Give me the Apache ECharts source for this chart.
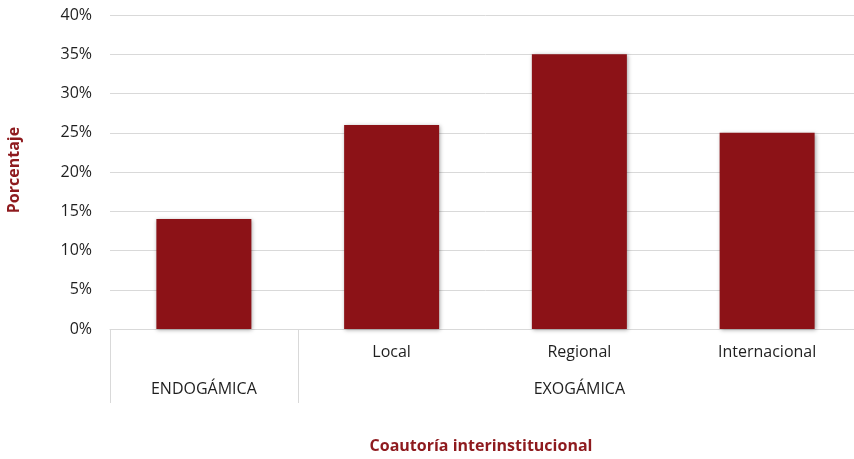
<!DOCTYPE html>
<html><head><meta charset="utf-8">
<script src="https://cdn.jsdelivr.net/npm/echarts@6/dist/echarts.min.js"></script>
<style>html,body{margin:0;padding:0;background:#fff;overflow:hidden}#c{width:870px;height:459px}</style>
</head><body><div id="c"></div>
<script>
const categories = ['', 'Local', 'Regional', 'Internacional'];
const groups = ['ENDOGÁMICA', '', 'EXOGÁMICA', ''];
const values = [14, 26, 35, 25];
const yMax = 40, yStep = 5;
const xTitle = 'Coautoría interinstitucional';
const yTitle = 'Porcentaje';

const FONT = 'Open Sans';
const chart = echarts.init(document.getElementById('c'));
chart.setOption({
  animation: false,
  textStyle: { fontFamily: FONT },
  grid: { left: 110, top: 15, right: 9, height: 314 },
  xAxis: [
    {
      type: 'category', data: categories, position: 'bottom',
      axisLine: { show: true, lineStyle: { color: '#d9d9d9', width: 1 } },
      axisTick: { show: false },
      axisLabel: { margin: 15, fontSize: 16, color: '#1f1f1f', fontFamily: FONT }
    },
    {
      type: 'category', data: groups, position: 'bottom', gridIndex: 0,
      axisLine: { show: false },
      axisTick: { show: true, length: 74, lineStyle: { color: '#d9d9d9', width: 1 },
        interval: function (i) { return i === 0 || i === 1; } },
      axisLabel: { margin: 52, fontSize: 16, color: '#1f1f1f', fontFamily: FONT, interval: 0 }
    }
  ],
  yAxis: {
    type: 'value', min: 0, max: yMax, interval: yStep,
    axisLine: { show: false }, axisTick: { show: false },
    axisLabel: { formatter: '{value}%', margin: 18, fontSize: 16, color: '#1f1f1f', fontFamily: FONT },
    splitLine: { lineStyle: { color: '#d9d9d9', width: 1 } }
  },
  graphic: [
    { type: 'text', x: 481, y: 438, style: { text: xTitle, fill: '#8E1A1E', font: 'bold 16px ' + FONT, align: 'center', verticalAlign: 'top' } },
    { type: 'text', x: 6, y: 170, rotation: Math.PI / 2, style: { text: yTitle, fill: '#8E1A1E', font: 'bold 16px ' + FONT, align: 'center', verticalAlign: 'top' } }
  ],
  series: [{
    type: 'bar', data: values, xAxisIndex: 0, barWidth: 95,
    itemStyle: { color: '#8C1217', shadowColor: 'rgba(0,0,0,0.35)', shadowBlur: 4, shadowOffsetX: 1, shadowOffsetY: 1 }
  }]
});
</script></body></html>
